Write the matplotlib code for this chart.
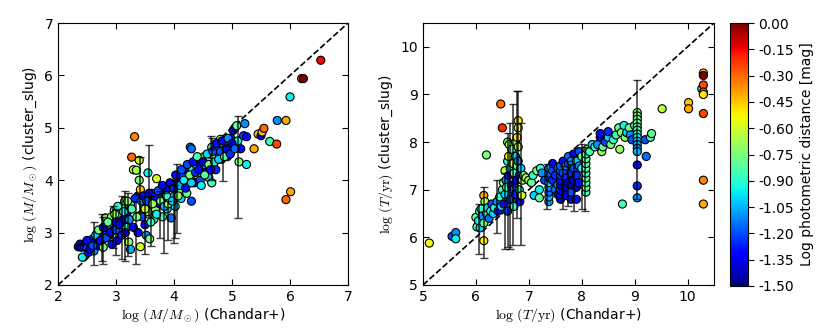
import numpy as np
import matplotlib
matplotlib.use("Agg")
import matplotlib.pyplot as plt

# ---- left panel: mass ------------------------------------------------------
mass_x = [2.35, 2.38, 2.40, 2.42, 2.45, 2.48, 2.50, 2.52, 2.55, 2.58, 2.60, 2.62, 2.65, 2.68,
          2.70, 2.72, 2.75, 2.78, 2.80, 2.82, 2.85, 2.88, 2.90, 2.92, 2.95, 2.97, 3.00, 3.02,
          3.05, 3.08, 3.10, 3.12, 3.15, 3.18, 3.20, 3.22, 3.25, 3.25, 3.27, 3.30, 3.32, 3.35,
          3.38, 3.40, 3.40, 3.42, 3.42, 3.45, 3.48, 3.50, 3.52, 3.55, 3.55, 3.58, 3.60, 3.62,
          3.65, 3.68, 3.70, 3.72, 3.75, 3.78, 3.80, 3.82, 3.85, 3.88, 3.90, 3.92, 3.95, 3.97,
          4.00, 4.02, 4.05, 4.08, 4.10, 4.12, 4.15, 4.18, 4.20, 4.22, 4.25, 4.28, 4.30, 4.30,
          4.32, 4.35, 4.38, 4.40, 4.42, 4.45, 4.48, 4.50, 4.52, 4.55, 4.58, 4.60, 4.62, 4.65,
          4.65, 4.68, 4.70, 4.72, 4.75, 4.78, 4.80, 4.82, 4.85, 4.88, 4.90, 4.92, 4.95, 4.98,
          5.02, 5.05, 5.08, 5.10, 5.12, 5.15, 5.20, 5.22, 5.25, 5.25, 5.38, 5.45, 5.50, 5.52,
          5.55, 5.65, 5.78, 5.77, 5.93, 6.00, 5.93, 6.01, 6.20, 6.23, 6.53,
          2.50, 2.55, 2.60, 2.65, 2.70, 2.73, 2.78, 2.83, 2.86, 2.90, 2.93, 2.98, 3.00, 3.03,
          3.06, 3.10, 3.13, 3.16, 3.20, 3.23, 3.27, 3.30, 3.33, 3.36, 3.38, 3.44, 3.47, 3.50,
          3.53, 3.57, 3.60, 3.63, 3.67, 3.70, 3.73, 3.77, 3.80, 3.83, 3.87, 3.90, 3.93, 3.97,
          4.00, 4.03, 4.07, 4.10, 4.13, 4.17, 4.20, 4.23, 4.27, 4.30, 4.33, 4.37, 4.40, 4.43,
          4.47, 4.50, 4.53, 4.57, 4.60, 4.63, 4.67, 4.70, 4.73, 4.77, 4.80, 4.83, 4.87, 4.90,
          4.93, 4.97, 5.00, 5.05]
mass_y = [2.73, 2.78, 2.72, 2.53, 2.75, 2.80, 2.70, 2.62, 2.82, 2.78, 2.88, 2.65, 2.85, 2.92,
          2.75, 2.95, 3.00, 2.72, 3.05, 3.28, 3.10, 2.95, 3.15, 3.30, 3.05, 3.42, 3.20, 2.85,
          3.35, 3.00, 3.50, 3.25, 3.60, 3.10, 3.40, 2.82, 3.55, 2.68, 4.44, 4.20, 4.83, 4.19,
          3.70, 4.38, 4.00, 3.82, 2.73, 3.30, 3.50, 3.15, 2.95, 4.14, 3.40, 2.88, 3.65, 3.75,
          3.25, 3.45, 4.03, 3.70, 3.55, 3.80, 3.30, 3.60, 3.75, 3.45, 3.85, 3.65, 3.28, 3.90,
          3.70, 3.50, 3.95, 3.80, 4.05, 3.65, 4.10, 3.90, 4.20, 3.75, 4.00, 4.63, 4.60, 3.60,
          4.20, 3.95, 4.30, 4.10, 4.35, 4.00, 4.40, 4.25, 4.45, 4.15, 4.38, 4.05, 4.50, 3.95,
          4.63, 4.30, 4.45, 4.20, 4.60, 4.50, 4.78, 4.40, 4.65, 4.55, 4.72, 4.45, 4.60, 4.80,
          4.95, 5.00, 5.04, 4.75, 4.35, 4.60, 4.85, 5.08, 4.30, 4.83, 4.60, 4.88, 4.85, 4.92,
          4.99, 4.74, 5.14, 4.69, 5.14, 5.59, 3.63, 3.78, 5.94, 5.94, 6.29,
          2.85, 2.68, 2.75, 2.95, 3.05, 2.85, 3.10, 2.90, 3.20, 3.00, 2.78, 3.35, 3.05, 3.50,
          3.15, 2.95, 3.40, 3.00, 3.60, 3.25, 3.45, 3.10, 3.65, 3.30, 3.00, 3.60, 3.70, 3.45,
          3.60, 3.75, 3.20, 3.55, 3.70, 3.35, 3.80, 3.60, 3.90, 3.50, 3.70, 3.55, 3.95, 3.60,
          3.85, 4.10, 3.70, 3.90, 4.20, 4.00, 3.85, 4.30, 4.10, 3.95, 4.35, 4.15, 4.45, 4.20,
          3.90, 4.35, 4.10, 4.50, 4.30, 4.20, 4.55, 4.35, 4.70, 4.40, 4.55, 4.75, 4.45, 4.60,
          4.80, 4.50, 4.70, 4.60]
mass_c = [-1.40, -1.35, -1.45, -0.95, -1.30, -1.40, -1.20, -1.35, -1.30, -1.45, -1.25, -1.10,
          -1.35, -1.30, -1.40, -1.05, -1.30, -0.75, -1.20, -0.70, -1.35, -1.25, -1.00, -0.75,
          -1.40, -0.80, -1.30, -1.35, -0.65, -1.10, -0.75, -1.40, -0.80, -0.90, -1.30, -0.70,
          -0.90, -1.05, -0.30, -0.60, -0.35, -0.70, -1.35, -0.60, -0.75, -0.45, -0.60, -1.20,
          -0.80, -1.30, -1.10, -0.95, -0.70, -0.75, -1.35, -1.20, -0.90, -0.70, -0.60, -1.00,
          -1.30, -1.25, -0.85, -0.75, -1.40, -1.00, -1.30, -0.70, -1.15, -1.35, -1.10, -0.95,
          -1.25, -0.80, -1.40, -1.00, -1.20, -0.90, -1.30, -0.80, -1.10, -1.10, -1.15, -1.20,
          -0.90, -1.35, -1.00, -0.70, -1.30, -1.20, -0.75, -1.10, -0.65, -1.30, -0.80, -1.00,
          -1.20, -0.85, -0.90, -1.35, -0.70, -1.25, -0.75, -1.30, -0.70, -1.40, -0.55, -1.00,
          -1.25, -1.35, -1.20, -1.40, -1.30, -1.45, -0.80, -0.95, -0.75, -1.30, -1.20, -1.10,
          -0.95, -1.30, -0.40, -0.45, -1.35, -0.45, -0.30, -0.85, -1.10, -0.25, -0.40, -0.95,
          -0.30, -0.40, -0.35, 0.00, -0.15,
          -1.30, -1.40, -1.20, -1.00, -0.75, -1.30, -1.40, -1.20, -0.80, -1.35, -1.30, -0.70,
          -1.20, -0.90, -1.35, -1.25, -0.95, -1.40, -0.70, -1.10, -0.85, -1.30, -1.25, -0.75,
          -1.30, -1.10, -1.30, -0.60, -1.20, -1.35, -0.85, -0.70, -1.30, -0.95, -1.20, -0.75,
          -1.30, -1.05, -0.90, -0.70, -1.35, -1.00, -1.25, -1.30, -0.70, -1.05, -1.20, -0.95,
          -1.30, -1.20, -0.75, -1.00, -1.30, -1.25, -0.85, -1.30, -0.95, -1.40, -0.80, -1.00,
          -0.75, -1.30, -1.20, -0.95, -1.30, -1.00, -1.20, -1.35, -0.80, -1.30, -1.10, -1.25,
          -1.40, -1.15]
# vertical error bars: x, central value, lower and upper limits
mass_err_x = [2.62, 2.75, 2.77, 2.95, 3.00, 3.10, 3.15, 3.20, 3.35, 3.42, 3.50, 3.57, 3.60,
              3.75, 3.82, 3.90, 4.00, 4.02, 4.05, 4.63, 4.65, 4.85, 5.10]
mass_err_y = [2.80, 2.95, 2.90, 3.20, 3.05, 3.10, 3.30, 3.15, 3.00, 3.90, 3.20, 4.00, 3.25,
              3.35, 3.20, 3.25, 3.40, 3.50, 3.60, 4.70, 4.40, 4.30, 4.40]
mass_err_lo = [2.38, 2.45, 2.40, 2.70, 2.58, 2.50, 2.45, 2.55, 2.40, 3.40, 2.60, 3.30, 2.75,
               2.90, 2.62, 2.85, 2.80, 2.90, 3.00, 4.60, 4.00, 3.98, 3.28]
mass_err_hi = [3.20, 3.35, 3.30, 3.50, 3.45, 3.70, 3.80, 3.75, 3.60, 4.45, 3.70, 4.68, 3.70,
               3.80, 3.75, 3.60, 3.90, 4.00, 4.30, 4.85, 4.80, 4.65, 5.23]

# ---- right panel: age ------------------------------------------------------
age_x = [5.12, 5.55, 5.62, 5.62,
         6.00, 6.02, 6.05, 6.07, 6.08, 6.10, 6.12, 6.15, 6.15, 6.15, 6.17, 6.20, 6.20, 6.22,
         6.25, 6.28, 6.30, 6.33, 6.35,
         6.40, 6.42, 6.45, 6.47, 6.50, 6.48, 6.50, 6.52, 6.53, 6.55, 6.55, 6.57, 6.58, 6.60,
         6.60, 6.60, 6.62, 6.62, 6.63, 6.65, 6.65, 6.67, 6.68, 6.70, 6.70, 6.72, 6.72, 6.75,
         6.75, 6.75, 6.77, 6.78, 6.78, 6.80, 6.80, 6.80, 6.80, 6.82, 6.82, 6.83, 6.85, 6.87,
         6.88,
         6.90, 6.95, 7.00, 7.05, 7.08, 7.10, 7.15, 7.20, 7.20, 7.22, 7.25, 7.30,
         7.38, 7.38, 7.38, 7.38, 7.38, 7.38, 7.38, 7.38, 7.45, 7.45, 7.45, 7.50, 7.50, 7.55,
         7.55, 7.55, 7.60, 7.60, 7.60, 7.60, 7.60, 7.60, 7.60, 7.60, 7.65, 7.65, 7.65, 7.70,
         7.70, 7.70, 7.70, 7.75, 7.75, 7.75, 7.80, 7.80, 7.80, 7.80, 7.80, 7.85, 7.85, 7.85,
         7.90, 7.90, 7.90, 7.90, 7.95, 7.95, 7.95, 8.00, 8.00, 8.08, 8.08, 8.08, 8.08, 8.08,
         8.08, 8.08, 8.08, 8.08,
         8.10, 8.15, 8.20, 8.25, 8.30, 8.35, 8.35, 8.38, 8.40, 8.45, 8.50, 8.50, 8.55, 8.60,
         8.65, 8.70, 8.72, 8.75, 8.77, 8.80, 8.82, 8.85, 8.90, 8.92, 8.95, 9.00,
         9.05, 9.05, 9.05, 9.05, 9.05, 9.05, 9.05, 9.05, 9.05, 9.05, 9.05, 9.05, 9.05, 9.05,
         9.05,
         9.20, 9.22, 9.30, 9.32, 9.52, 10.02, 10.02, 10.27, 10.30, 10.30, 10.30, 10.30, 10.30,
         10.30, 10.30, 10.30]
age_y = [5.88, 6.02, 6.10, 5.97,
         6.42, 6.22, 6.35, 6.55, 6.20, 6.60, 6.45, 6.30, 6.88, 5.93, 6.75, 6.50, 7.73, 6.62,
         6.40, 6.55, 6.70, 6.50, 6.62,
         6.75, 6.55, 6.85, 8.80, 8.30, 6.65, 7.00, 7.15, 6.70, 7.40, 6.90, 7.20, 7.05, 8.00,
         7.60, 6.55, 7.70, 7.30, 7.95, 7.45, 6.80, 7.10, 7.85, 7.55, 7.00, 7.35, 6.65, 8.00,
         7.70, 6.90, 7.20, 8.10, 7.50, 8.45, 8.30, 7.90, 7.60, 7.30, 7.00, 6.75, 7.45, 6.88,
         7.20,
         7.30, 7.25, 7.20, 7.15, 7.30, 6.88, 7.40, 7.00, 6.83, 7.45, 7.35, 7.20,
         6.75, 6.85, 6.95, 7.05, 7.15, 7.25, 7.35, 7.45, 7.20, 7.40, 7.55, 7.00, 7.30, 7.10,
         7.45, 6.90, 6.80, 6.90, 7.00, 7.10, 7.20, 7.30, 7.40, 7.50, 7.60, 7.35, 6.95, 7.25,
         7.50, 7.05, 6.88, 7.55, 7.70, 7.15, 6.80, 6.95, 7.10, 7.35, 7.60, 7.75, 7.45, 7.20,
         7.60, 7.30, 7.05, 6.80, 7.80, 7.50, 7.15, 7.45, 7.70, 6.95, 7.05, 7.15, 7.25, 7.35,
         7.45, 7.55, 7.65, 7.75,
         7.85, 7.80, 7.95, 7.90, 7.95, 8.10, 8.18, 7.80, 7.90, 8.00, 8.10, 8.22, 7.95, 8.05,
         8.15, 8.30, 7.85, 8.20, 6.70, 8.35, 8.10, 8.20, 8.30, 8.15, 8.05, 8.35,
         8.62, 8.55, 8.48, 8.40, 8.32, 8.25, 8.17, 8.10, 8.02, 7.95, 7.87, 7.80, 7.52, 7.08,
         6.83,
         8.05, 7.70, 8.10, 8.18, 8.70, 8.83, 8.70, 9.12, 9.45, 9.40, 9.20, 9.05, 9.00, 8.60,
         7.20, 6.70]
age_c = [-0.55, -1.20, -1.10, -0.95,
         -0.80, -0.85, -0.95, -0.85, -1.00, -0.90, -1.10, -0.80, -0.40, -0.50, -0.65, -0.90,
         -0.75, -1.00, -1.15, -0.90, -1.20, -1.00, -0.95,
         -1.10, -1.30, -0.90, -0.30, -0.20, -1.00, -0.85, -0.70, -1.30, -0.65, -1.00, -1.10,
         -0.85, -0.75, -0.90, -1.20, -0.55, -1.30, -0.70, -0.95, -1.20, -1.35, -0.80, -0.60,
         -1.20, -0.85, -0.90, -0.70, -1.00, -1.25, -1.30, -0.50, -0.80, -0.50, -0.55, -0.65,
         -1.10, -1.20, -0.90, -1.30, -1.00, -0.60, -0.70,
         -0.75, -0.65, -0.70, -0.80, -0.90, -1.00, -0.75, -0.95, -0.80, -0.90, -1.10, -1.20,
         -1.10, -1.05, -1.15, -1.10, -1.00, -1.20, -1.15, -1.05, -1.25, -1.20, -1.30, -1.15,
         -1.25, -1.10, -1.20, -1.30, -1.35, -1.30, -1.25, -1.35, -1.30, -1.25, -1.20, -1.15,
         -1.30, -1.20, -1.35, -1.25, -1.10, -1.40, -1.30, -1.20, -1.15, -1.35, -1.30, -1.20,
         -1.40, -1.25, -1.10, -1.30, -1.20, -1.35, -1.00, -1.25, -1.40, -1.30, -1.20, -1.10,
         -1.30, -0.95, -0.80, -0.85, -0.80, -0.85, -0.80, -0.85, -0.80, -0.85, -0.80, -0.85,
         -0.75, -0.85, -1.00, -0.90, -1.10, -1.40, -1.30, -0.70, -0.80, -1.20, -1.00, -1.25,
         -0.75, -0.90, -0.85, -0.80, -0.70, -0.75, -0.85, -0.95, -0.70, -1.00, -0.80, -1.10,
         -1.20, -0.90,
         -0.75, -0.70, -0.80, -0.75, -0.85, -0.80, -0.90, -0.95, -1.00, -1.05, -1.10, -1.05,
         -1.30, -1.25, -1.10,
         -1.20, -1.15, -0.85, -0.80, -0.65, -0.45, -0.40, -0.95, -0.50, 0.00, -0.25, -0.30,
         -0.50, -0.25, -0.35, -0.40]
age_err_x = [6.05, 6.15, 6.40, 6.55, 6.60, 6.65, 6.70, 6.77, 6.80, 6.85, 7.35, 7.65, 7.75,
             7.85, 8.00, 8.07, 9.05]
age_err_y = [6.30, 6.40, 6.60, 6.60, 7.00, 7.10, 7.30, 7.70, 7.90, 7.10, 7.10, 7.05, 7.10,
             7.10, 7.30, 7.20, 8.00]
age_err_lo = [5.65, 5.57, 6.10, 5.75, 5.80, 5.75, 5.85, 6.40, 6.80, 5.85, 6.60, 6.60, 6.65,
              6.55, 6.60, 6.55, 6.80]
age_err_hi = [6.70, 7.05, 7.20, 7.35, 8.20, 8.40, 8.80, 9.07, 9.07, 8.40, 7.55, 7.50, 7.60,
              7.70, 7.95, 7.90, 9.30]

cbar_ticks = [-1.50, -1.35, -1.20, -1.05, -0.90, -0.75, -0.60, -0.45, -0.30, -0.15, 0.00]

plt.rcParams["mathtext.fontset"] = "cm"
plt.rcParams["font.family"] = ["DejaVu Sans"]
plt.rcParams["font.size"] = 10

fig = plt.figure(figsize=(8.3, 3.32), dpi=100)
ax1 = fig.add_axes([0.0699, 0.1416, 0.3494, 0.789])
ax2 = fig.add_axes([0.5096, 0.1416, 0.3506, 0.789])
cax = fig.add_axes([0.8795, 0.1386, 0.0217, 0.792])


def panel(ax, x, y, c, ex, ey, elo, ehi, lim, xlabel, ylabel):
    ax.plot(lim, lim, "k--", lw=1.2, zorder=1)
    sc = ax.scatter(x, y, c=c, cmap="jet", vmin=-1.5, vmax=0.0, s=34,
                    edgecolors="k", linewidths=0.8, zorder=2)
    ey = np.asarray(ey)
    yerr = [ey - np.asarray(elo), np.asarray(ehi) - ey]
    ax.errorbar(ex, ey, yerr=yerr, fmt="none", ecolor="k", elinewidth=1.2,
                capsize=3, alpha=0.75, zorder=3)
    ax.set_xlim(lim)
    ax.set_ylim(lim)
    ax.set_xlabel(xlabel, fontsize=10, labelpad=2)
    ax.set_ylabel(ylabel, fontsize=10, labelpad=4)
    ax.tick_params(direction="in", top=True, right=True, length=4, labelsize=10)
    return sc


sc = panel(ax1, mass_x, mass_y, mass_c, mass_err_x, mass_err_y, mass_err_lo, mass_err_hi,
           [2, 7], r"$\log\,(M/M_\odot)$ (Chandar+)", r"$\log\,(M/M_\odot)$ (cluster_slug)")
ax1.set_xticks([2, 3, 4, 5, 6, 7])
ax1.set_yticks([2, 3, 4, 5, 6, 7])

panel(ax2, age_x, age_y, age_c, age_err_x, age_err_y, age_err_lo, age_err_hi,
      [5, 10.5], r"$\log\,(T/\mathrm{yr})$ (Chandar+)", r"$\log\,(T/\mathrm{yr})$ (cluster_slug)")
ax2.set_xticks([5, 6, 7, 8, 9, 10])
ax2.set_yticks([5, 6, 7, 8, 9, 10])

cb = fig.colorbar(sc, cax=cax, ticks=cbar_ticks, format="%.2f")
cb.set_label("Log photometric distance [mag]", fontsize=10)
cb.ax.tick_params(labelsize=10, length=4)

fig.savefig("out.png", dpi=100)
